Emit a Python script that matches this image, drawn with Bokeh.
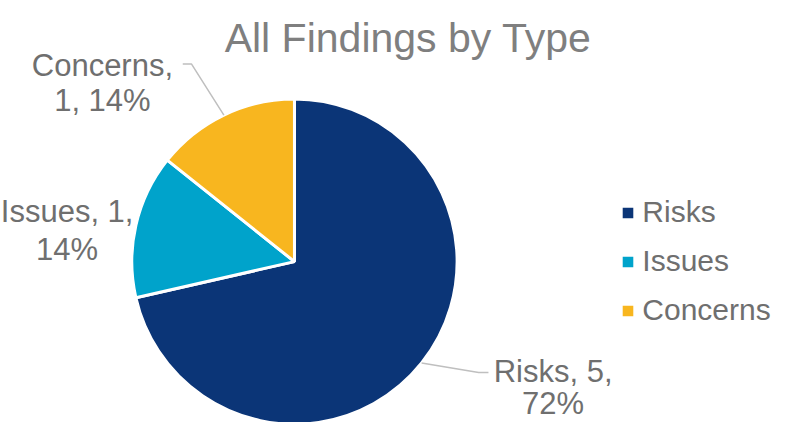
import numpy as np
from bokeh.plotting import figure
from bokeh.models import Range1d, Legend, LegendItem, ColumnDataSource
from bokeh.core.properties import value
from bokeh.embed import file_html
from bokeh.resources import INLINE

# ---- data ----
categories = ["Risks", "Issues", "Concerns"]
counts = [5, 1, 1]
pct_labels = ["72%", "14%", "14%"]
colors = ["#0B3577", "#00A3CB", "#F8B61F"]
title_text = "All Findings by Type"

# ---- layout: data units follow the 794x438 reference, drawn into a 778x422 plot ----
RW, RH = 794, 438
W, H = 778, 422
SXF, SYF = W / RW, H / RH
KY = SXF / SYF  # y-data units per x-data unit of screen distance

def sy(y):
    return RH - y

FONT = value("Liberation Sans")
TXT = "#6f6f6f"

p = figure(width=W, height=H, output_backend="svg", toolbar_location=None,
           x_axis_type=None, y_axis_type=None,
           x_range=Range1d(0, RW), y_range=Range1d(0, RH), min_border=0)
p.outline_line_color = None
p.background_fill_color = "white"
p.border_fill_color = "white"

cx, cy, r = 300, sy(271), 166
total = sum(counts)
fr = np.array(counts, dtype=float) / total
hi = np.pi / 2 - np.concatenate([[0], np.cumsum(fr)[:-1]]) * 2 * np.pi
lo = hi - fr * 2 * np.pi
mid = (hi + lo) / 2

src = ColumnDataSource(dict(cat=categories, n=counts, start=list(lo), end=list(hi), color=colors))
wr = p.wedge(x=cx, y=cy, radius=r, start_angle="start", end_angle="end",
             fill_color="color", line_color="white", line_width=3, source=src)

# title
p.text(x=[416], y=[sy(39)], text=[title_text], text_font=FONT, text_font_size="41px",
       text_color="#7f7f7f", text_align="center", text_baseline="alphabetic")

# data labels (two lines each)
lines = {
    "Risks": [f"{categories[0]}, {counts[0]},", pct_labels[0]],
    "Issues": [f"{categories[1]}, {counts[1]},", pct_labels[1]],
    "Concerns": [f"{categories[2]},", f"{counts[2]}, {pct_labels[2]}"],
}
label_pos = {"Risks": (564, 385, 33), "Issues": (68, 219, 39), "Concerns": (104, 67, 37)}
tx, ty, tt = [], [], []
for c in categories:
    x0, y0, lh = label_pos[c]
    for k, s in enumerate(lines[c]):
        tx.append(x0); ty.append(sy(y0 + k * lh)); tt.append(s)
p.text(x=tx, y=ty, text=tt, text_font=FONT, text_font_size="31px", text_color=TXT,
       text_align="center", text_baseline="alphabetic")

# leader lines from slice mid-angle edge
leader_pts = {"Risks": [(488, 386), (498, 386)], "Concerns": [(195, 66), (186, 66)]}
for i, c in enumerate(categories):
    if c not in leader_pts:
        continue
    xs = [cx + r * np.cos(mid[i])] + [a for a, b in leader_pts[c]]
    ys = [cy + r * KY * np.sin(mid[i])] + [sy(b) for a, b in leader_pts[c]]
    p.line(xs, ys, line_color="#bfbfbf", line_width=1.5)

# legend
items = [LegendItem(label=c, renderers=[wr], index=i) for i, c in enumerate(categories)]
legend = Legend(items=items, location=(619.3, 94.6), orientation="vertical",
                glyph_width=17, glyph_height=17, label_height=34, spacing=15,
                label_standoff=6, padding=0, margin=0,
                label_text_font="Liberation Sans", label_text_font_size="30px",
                label_text_color=TXT, border_line_color=None, background_fill_alpha=0)
p.add_layout(legend, "center")

open("out.html", "w").write(file_html(p, INLINE))
